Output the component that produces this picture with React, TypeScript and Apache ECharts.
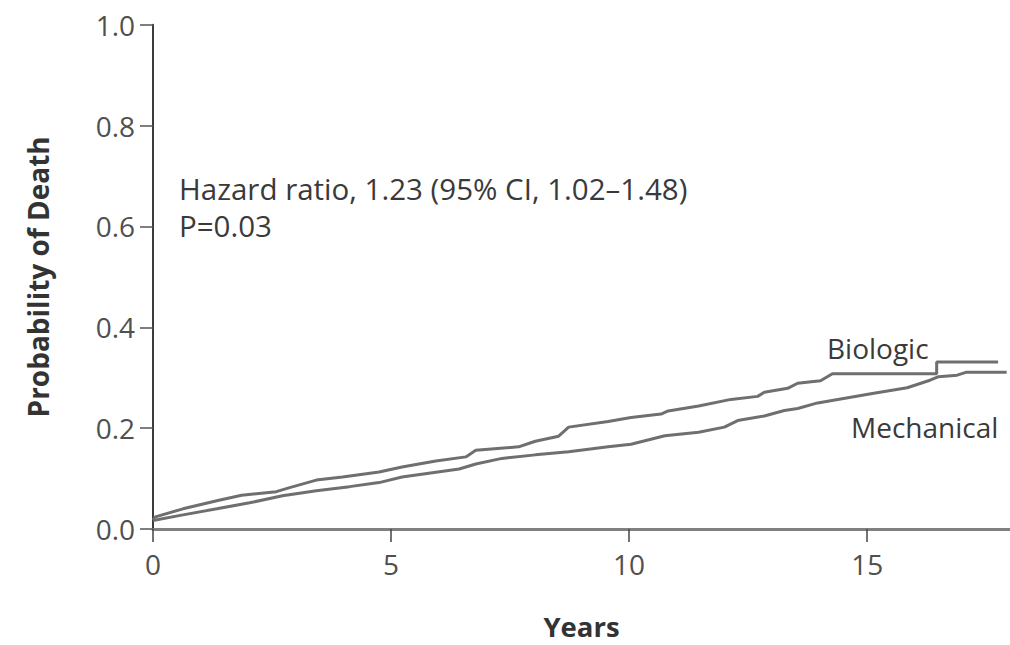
import React, { useEffect, useRef } from "react";
import * as echarts from "echarts";

// Kaplan-Meier style cumulative probability of death
const biologicYears = [0, 0.05, 0.63, 1.34, 1.86, 2.59, 2.87, 3.43, 3.98, 4.75, 5.23, 5.94, 6.57, 6.78, 7.68, 8.03, 8.52, 8.73, 9.56, 10.04, 10.67, 10.82, 11.46, 12.14, 12.7, 12.84, 13.33, 13.54, 14.02, 14.27, 16.46, 16.46, 17.75];
const biologicProb = [0.018, 0.024, 0.04, 0.056, 0.067, 0.074, 0.082, 0.097, 0.103, 0.113, 0.123, 0.135, 0.143, 0.156, 0.163, 0.174, 0.184, 0.202, 0.213, 0.221, 0.228, 0.234, 0.244, 0.257, 0.263, 0.271, 0.279, 0.289, 0.294, 0.308, 0.308, 0.331, 0.331];

const mechanicalYears = [0, 0.63, 1.34, 2.03, 2.72, 3.43, 4.13, 4.75, 5.23, 6.43, 6.78, 7.33, 8.03, 8.73, 9.56, 10.04, 10.75, 11.46, 12.0, 12.28, 12.84, 13.26, 13.54, 13.96, 15.14, 15.84, 16.32, 16.5, 16.89, 17.09, 17.93];
const mechanicalProb = [0.017, 0.028, 0.04, 0.052, 0.066, 0.076, 0.084, 0.092, 0.103, 0.119, 0.129, 0.14, 0.147, 0.153, 0.163, 0.168, 0.185, 0.192, 0.202, 0.215, 0.224, 0.235, 0.239, 0.25, 0.269, 0.28, 0.295, 0.302, 0.305, 0.311, 0.311];

const xTickValues = [0, 5, 10, 15];
const yTickLabels = ["0.0", "0.2", "0.4", "0.6", "0.8", "1.0"];

const annotationLines = ["Hazard ratio, 1.23 (95% CI, 1.02\u20131.48)", "P=0.03"];
const seriesNames = ["Biologic", "Mechanical"];

const FONT = "'Open Sans', 'Noto Sans', sans-serif";

export default function App() {
  const ref = useRef<HTMLDivElement>(null);

  useEffect(() => {
    if (!ref.current) return;
    const chart = echarts.init(ref.current, undefined, { renderer: "svg" });

    const bio = biologicYears.map((t, i) => [t, biologicProb[i]]);
    const mech = mechanicalYears.map((t, i) => [t, mechanicalProb[i]]);

    const lineColor = "#6f6f6f";

    chart.setOption({
      animation: false,
      backgroundColor: "#ffffff",
      grid: { left: 153, top: 24.7, width: 860.8, height: 516 },
      xAxis: {
        type: "value",
        min: 0,
        max: 18,
        interval: 5,
        name: "Years",
        nameLocation: "middle",
        nameGap: 83,
        nameTextStyle: { fontFamily: FONT, fontSize: 27.5, fontWeight: "bold", color: "#333" },
        axisLine: { show: true, lineStyle: { color: "#808080", width: 3 } },
        axisTick: { show: true, length: 13, lineStyle: { color: "#444", width: 1.5 } },
        axisLabel: {
          margin: 21,
          fontFamily: FONT,
          fontSize: 28,
          color: "#505050",
          showMaxLabel: false,
          formatter: (v: number) => (xTickValues.includes(v) ? String(v) : ""),
        },
        splitLine: { show: false },
      },
      yAxis: {
        type: "value",
        min: 0,
        max: 1,
        interval: 0.2,
        name: "Probability of Death",
        nameLocation: "middle",
        nameGap: 101,
        nameTextStyle: { fontFamily: FONT, fontSize: 28, fontWeight: "bold", color: "#333" },
        axisLine: { show: true, lineStyle: { color: "#3c3c3c", width: 2 } },
        axisTick: { show: true, length: 13, lineStyle: { color: "#555", width: 1.5 } },
        axisLabel: {
          margin: 18,
          fontFamily: FONT,
          fontSize: 28,
          color: "#505050",
          formatter: (v: number) => yTickLabels[Math.round(v / 0.2)] ?? "",
        },
        splitLine: { show: false },
      },
      series: [
        {
          name: seriesNames[0],
          type: "line",
          data: bio,
          showSymbol: false,
          symbol: "none",
          lineStyle: { color: lineColor, width: 3 },
          z: 3,
        },
        {
          name: seriesNames[1],
          type: "line",
          data: mech,
          showSymbol: false,
          symbol: "none",
          lineStyle: { color: lineColor, width: 3 },
          z: 3,
        },
      ],
      graphic: [
        {
          type: "text",
          left: 179,
          top: 170,
          style: {
            text: annotationLines.join("\n"),
            font: `29.5px ${FONT}`,
            fill: "#3a3a3a",
            lineHeight: 37,
          },
        },
        {
          type: "text",
          left: 827,
          top: 334,
          style: { text: seriesNames[0], font: `28px ${FONT}`, fill: "#3a3a3a" },
        },
        {
          type: "text",
          left: 851,
          top: 413,
          style: { text: seriesNames[1], font: `28px ${FONT}`, fill: "#3a3a3a" },
        },
      ],
    });

    return () => chart.dispose();
  }, []);

  return (
    <div
      ref={ref}
      style={{ position: "fixed", left: 0, top: 0, width: 1010, height: 645, background: "#fff" }}
    />
  );
}
